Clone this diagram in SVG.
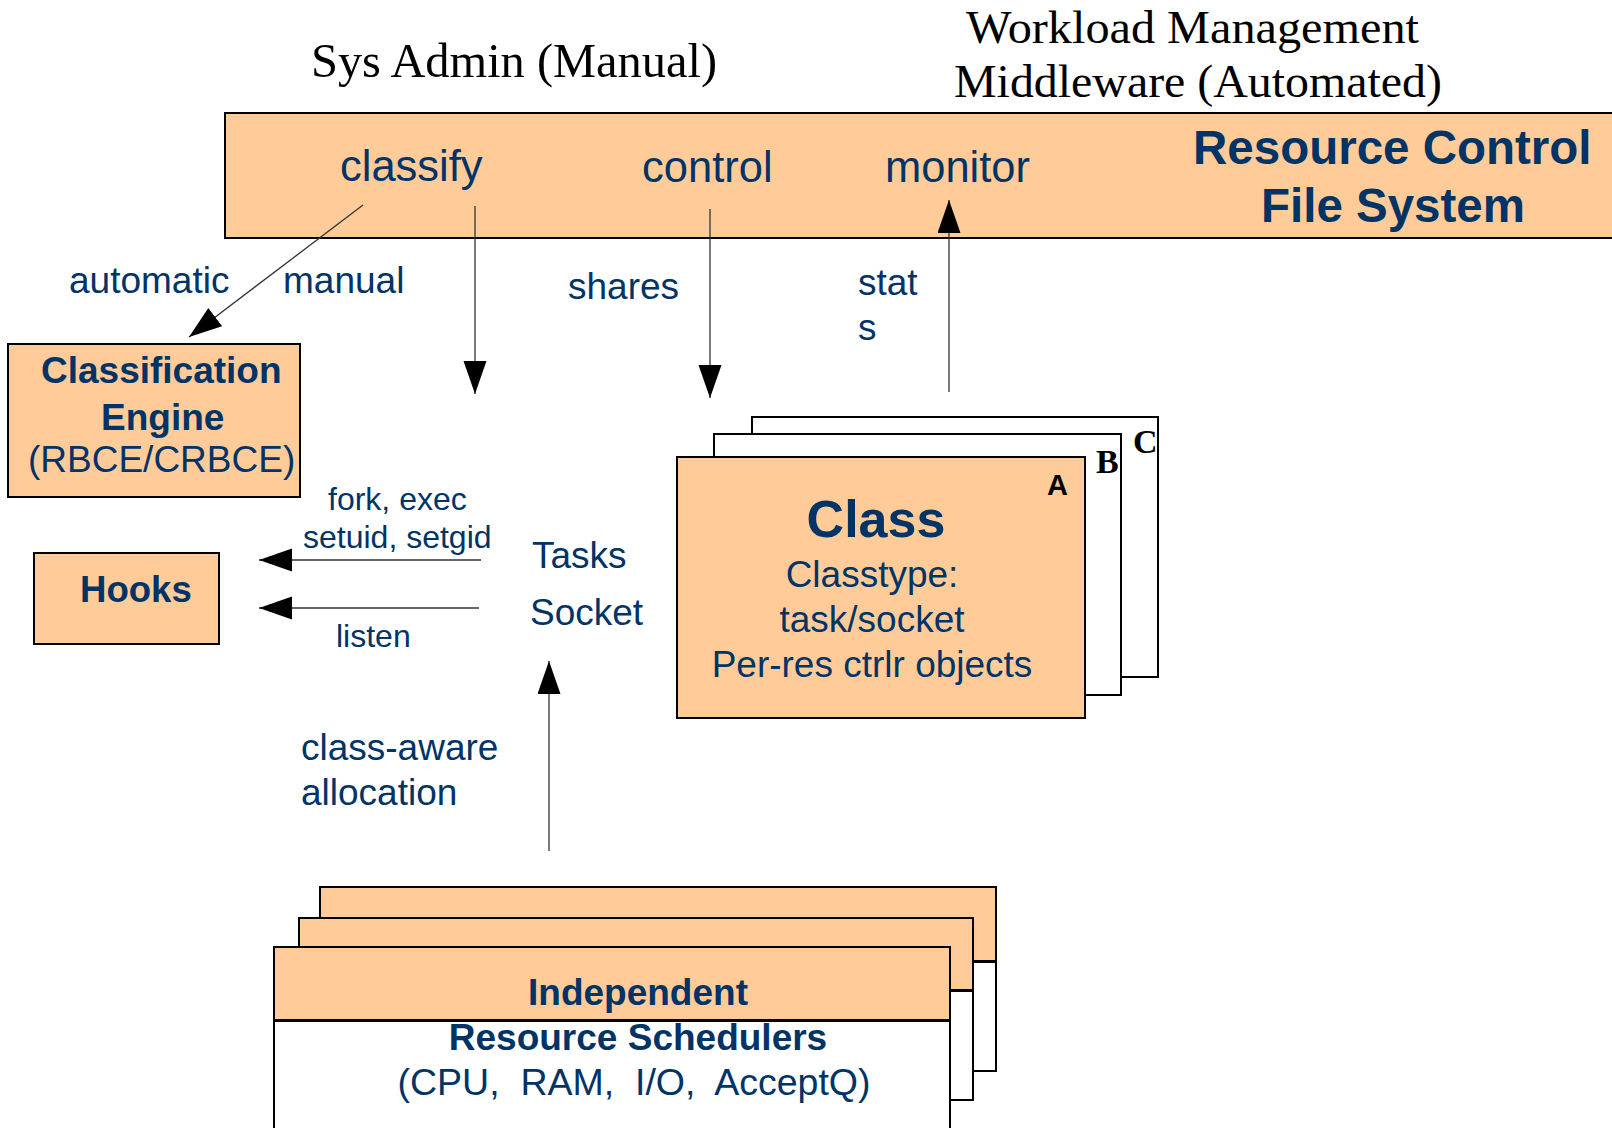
<svg xmlns="http://www.w3.org/2000/svg" width="1612" height="1128" viewBox="0 0 1612 1128">
  <defs>
    <style>
      .box { fill: #ffcc99; stroke: #000; stroke-width: 2; }
      .sheet { fill: #fff; stroke: #000; stroke-width: 2; }
      .t { font-family: "Liberation Sans", Arial, sans-serif; fill: #003366; }
      .b { font-weight: bold; }
      .serif { font-family: "Liberation Serif", "Times New Roman", serif; fill: #000; }
      .wire { stroke: #333; stroke-width: 1.3; fill: none; marker-end: url(#head); }
    </style>
    <marker id="head" markerUnits="userSpaceOnUse" markerWidth="34" markerHeight="24" refX="33" refY="11.5" orient="auto">
      <path d="M0,0 L33,11.5 L0,23 Z" fill="#000"/>
    </marker>
  </defs>

  <rect width="1612" height="1128" fill="#fff"/>

  <!-- actor headings -->
  <text class="serif" x="311" y="77" font-size="48" textLength="406" lengthAdjust="spacingAndGlyphs">Sys Admin (Manual)</text>
  <text class="serif" x="966" y="43" font-size="46" textLength="453" lengthAdjust="spacingAndGlyphs">Workload Management</text>
  <text class="serif" x="954" y="97" font-size="46" textLength="488" lengthAdjust="spacingAndGlyphs">Middleware (Automated)</text>

  <!-- resource control file system banner -->
  <g id="rcfs">
    <rect class="box" x="225" y="113" width="1400" height="125"/>
    <text class="t" x="340" y="181" font-size="43.5">classify</text>
    <text class="t" x="642" y="182" font-size="43.5">control</text>
    <text class="t" x="885" y="182" font-size="43.5">monitor</text>
    <text class="t b" x="1193" y="164" font-size="47.5">Resource Control</text>
    <text class="t b" x="1261" y="222" font-size="47.5">File System</text>
  </g>

  <!-- classification engine -->
  <g id="classification-engine">
    <rect class="box" x="8" y="344" width="292" height="153"/>
    <text class="t b" x="41" y="383" font-size="37">Classification</text>
    <text class="t b" x="101" y="430" font-size="37">Engine</text>
    <text class="t" x="28" y="472" font-size="37">(RBCE/CRBCE)</text>
  </g>

  <!-- hooks -->
  <g id="hooks">
    <rect class="box" x="34" y="553" width="185" height="91"/>
    <text class="t b" x="80" y="602" font-size="36.6">Hooks</text>
  </g>

  <!-- tasks / sockets -->
  <g id="tasks-socket">
    <text class="t" x="532" y="568" font-size="37">Tasks</text>
    <text class="t" x="530" y="625" font-size="37">Socket</text>
  </g>

  <!-- class stack A, B, C -->
  <g id="classes">
    <rect class="sheet" x="752" y="417" width="406" height="260"/>
    <text x="1133" y="453" font-family="Liberation Serif, Times New Roman, serif" font-weight="bold" font-size="34">C</text>
    <rect class="sheet" x="714" y="434" width="407" height="261"/>
    <text x="1096" y="473" font-family="Liberation Serif, Times New Roman, serif" font-weight="bold" font-size="34">B</text>
    <rect class="box" x="677" y="457" width="408" height="261"/>
    <text x="1047" y="495" font-family="Liberation Sans, Arial, sans-serif" font-weight="bold" font-size="29">A</text>
    <text class="t b" x="876" y="537" font-size="52" text-anchor="middle">Class</text>
    <text class="t" x="872" y="587" font-size="37" text-anchor="middle">Classtype:</text>
    <text class="t" x="872" y="632" font-size="37" text-anchor="middle">task/socket</text>
    <text class="t" x="872" y="677" font-size="37" text-anchor="middle">Per-res ctrlr objects</text>
  </g>

  <!-- independent resource schedulers stack -->
  <g id="schedulers">
    <rect class="box" x="320" y="887" width="676" height="74"/>
    <rect class="sheet" x="320" y="962" width="676" height="109"/>
    <rect class="box" x="299" y="918" width="674" height="72"/>
    <rect class="sheet" x="299" y="991" width="674" height="109"/>
    <rect class="box" x="274" y="947" width="676" height="73"/>
    <rect class="sheet" x="274" y="1021" width="676" height="120"/>
    <text class="t b" x="638" y="1005" font-size="37" text-anchor="middle">Independent</text>
    <text class="t b" x="638" y="1050" font-size="37" text-anchor="middle">Resource Schedulers</text>
    <text class="t" x="634" y="1095" font-size="37.5" text-anchor="middle" xml:space="preserve" style="white-space:pre">(CPU,  RAM,  I/O,  AcceptQ)</text>
  </g>

  <!-- connectors -->
  <g id="connectors">
    <line class="wire" x1="363" y1="205" x2="189" y2="337"/>
    <line class="wire" x1="475" y1="206" x2="475" y2="394"/>
    <line class="wire" x1="710" y1="209" x2="710" y2="398"/>
    <line class="wire" x1="949" y1="392" x2="949" y2="200"/>
    <line class="wire" x1="481" y1="560" x2="259" y2="560"/>
    <line class="wire" x1="479" y1="608" x2="259" y2="608"/>
    <line class="wire" x1="549" y1="851" x2="549" y2="661"/>
  </g>

  <!-- connector labels -->
  <g id="labels">
    <text class="t" x="69" y="293" font-size="37">automatic</text>
    <text class="t" x="283" y="293" font-size="37">manual</text>
    <text class="t" x="568" y="299" font-size="37">shares</text>
    <text class="t" x="858" y="295" font-size="37">stat</text>
    <text class="t" x="858" y="340" font-size="37">s</text>
    <text class="t" x="328" y="510" font-size="32">fork, exec</text>
    <text class="t" x="303" y="548" font-size="32">setuid, setgid</text>
    <text class="t" x="336" y="647" font-size="32">listen</text>
    <text class="t" x="301" y="760" font-size="37">class-aware</text>
    <text class="t" x="301" y="805" font-size="37">allocation</text>
  </g>
</svg>
